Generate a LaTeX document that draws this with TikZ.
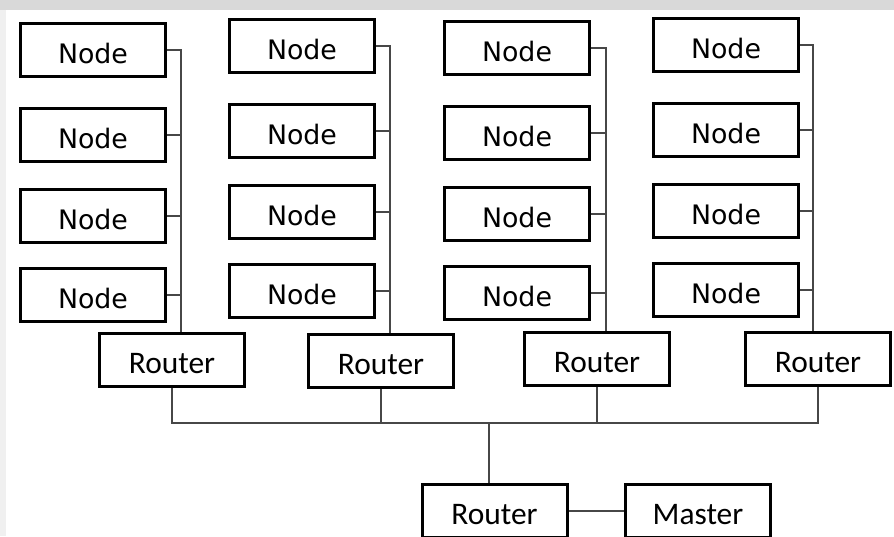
\documentclass[tikz,border=0pt]{standalone}
\usepackage{fontspec}
\setmainfont{Carlito}
\newfontfamily\nodefont{DejaVu Sans}
\usetikzlibrary{calc}

\tikzset{
  nodebox/.style={
    draw=black, line width=1.5pt, fill=white,
    minimum width=72.5pt, minimum height=26.5pt, inner sep=0pt,
    text height=13.2pt, text depth=0pt,
    font=\nodefont\fontsize{13.4}{16}\selectfont
  },
  routerbox/.style={
    nodebox,
    font=\fontsize{15.7}{19}\selectfont
  },
  link/.style={draw=black!72, line width=0.6pt}
}

\begin{document}
\begin{tikzpicture}[
  x=0.5pt,
  y=-0.5pt,
  line cap=butt,
  line join=miter
]
  \useasboundingbox (0,0) rectangle (894,536);
  \clip (0,0) rectangle (894,536);

  % Фон
  \fill[white] (0,0) rectangle (894,536);
  \fill[black!15] (0,0) rectangle (894,10);
  \fill[black!6] (0,10) rectangle (6,536);

  % Маршрутизаторы
  \node[routerbox] (r1) at (172,360) {Router};
  \node[routerbox] (r2) at (381,361) {Router};
  \node[routerbox] (r3) at (597,359) {Router};
  \node[routerbox] (r4) at (818,359) {Router};

  \node[routerbox] (rm) at (494.5,511) {Router};
  \node[routerbox] (master) at (698,511) {Master};

  % Узлы и стойки
  \foreach \c/\x/\y/\s in {1/93/50/181, 2/302/46/390,
                           3/517/48/606, 4/726/45/813}{
    \coordinate (s\c) at (\s,0);
    \foreach \r/\d in {1/0, 2/85, 3/166, 4/245}
      \node[nodebox] (n\c-\r) at (\x,{\y+\d}) {Node};

    \draw[link] (n\c-1.east) -| (s\c |- r\c.north);
    \foreach \r in {2,3,4}
      \draw[link] (n\c-\r.east) -- (n\c-\r.east -| s\c);
  }

  % Общая шина
  \coordinate (hub) at (489,423);
  \draw[link] (r1.south) |- (hub) -| (r4.south);
  \draw[link] (r2.south) -- (r2.south |- hub);
  \draw[link] (r3.south) -- (r3.south |- hub);
  \draw[link] (hub) -- (hub |- rm.north);

  % Главный узел
  \draw[link] (rm.east) -- (master.west);
\end{tikzpicture}
\end{document}
